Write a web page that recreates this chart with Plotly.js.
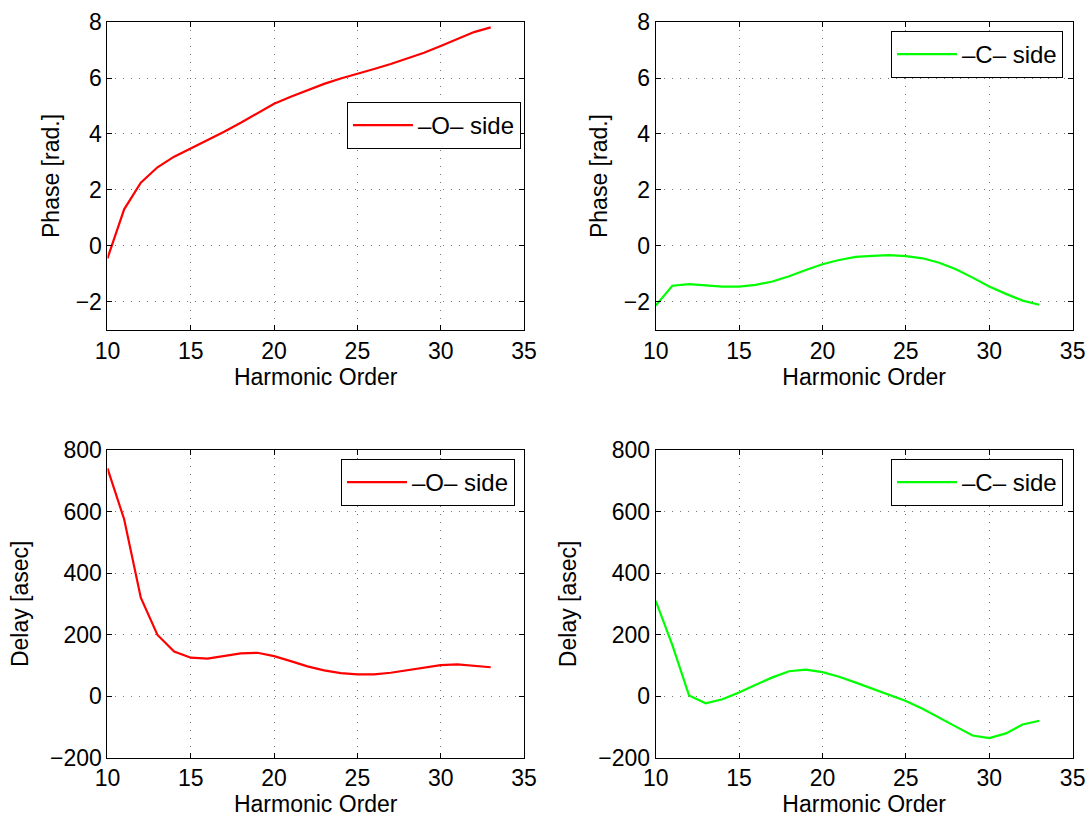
<!DOCTYPE html>
<html>
<head>
<meta charset="utf-8">
<script src="https://cdn.plot.ly/plotly-3.0.1.min.js"></script>
<style>
  html, body { margin: 0; padding: 0; background: #fff; }
  #chart { width: 1089px; height: 818px; }
</style>
</head>
<body>
<div id="chart"></div>
<script>
// Harmonic orders shared by all four panels
const harmonicOrder = [10, 11, 12, 13, 14, 15, 16, 17, 18, 19, 20, 21,
                       22, 23, 24, 25, 26, 27, 28, 29, 30, 31, 32, 33];

// Spectral phase [rad.]
const phaseOSide = [-0.44, 1.31, 2.26, 2.81, 3.19, 3.49, 3.77, 4.08, 4.40, 4.74, 5.08, 5.33,
                    5.57, 5.79, 5.98, 6.14, 6.32, 6.50, 6.69, 6.90, 7.14, 7.40, 7.64, 7.81];
const phaseCSide = [-2.13, -1.42, -1.36, -1.40, -1.45, -1.45, -1.39, -1.27, -1.08, -0.86, -0.65, -0.50,
                    -0.39, -0.35, -0.33, -0.36, -0.44, -0.60, -0.83, -1.13, -1.45, -1.71, -1.95, -2.10];

// Group delay [asec]
const delayOSide = [740, 575, 320, 199, 145, 125, 122, 130, 139, 141, 130, 114,
                    97, 84, 75, 71, 71, 76, 85, 94, 101, 103, 99, 94];
const delayCSide = [310, 166, 2, -23, -10, 12, 37, 61, 81, 86, 78, 63,
                    44, 24, 5, -16, -41, -69, -99, -128, -136, -121, -92, -80];

const seriesNames = ['\u2013O\u2013 side', '\u2013C\u2013 side'];
const xTicks = [10, 15, 20, 25, 30, 35];
const phaseTicks = [-2, 0, 2, 4, 6, 8];
const delayTicks = [-200, 0, 200, 400, 600, 800];

const FONT = 'Liberation Sans, Arial, Helvetica, sans-serif';
const RED = '#ff0000';
const GREEN = '#00ff00';

function trace(y, name, color, xa, ya, legend) {
  return {
    x: harmonicOrder, y: y, name: name, type: 'scatter', mode: 'lines',
    line: { color: color, width: 2.2 },
    xaxis: xa, yaxis: ya, legend: legend, showlegend: true
  };
}

const data = [
  trace(phaseOSide, seriesNames[0], RED, 'x', 'y', 'legend'),
  trace(phaseCSide, seriesNames[1], GREEN, 'x2', 'y2', 'legend2'),
  trace(delayOSide, seriesNames[0], RED, 'x3', 'y3', 'legend3'),
  trace(delayCSide, seriesNames[1], GREEN, 'x4', 'y4', 'legend4')
];

const GRID = { showgrid: true, gridcolor: '#777', griddash: '1px,7px', gridwidth: 1 };

function xAxis(domain, anchor) {
  return Object.assign({
    domain: domain, anchor: anchor, range: [10, 35],
    tickmode: 'array', tickvals: xTicks,
    ticks: 'inside', ticklen: 5, tickcolor: '#000',
    showline: true, linecolor: '#000', linewidth: 1, mirror: 'ticks',
    zeroline: false,
    tickfont: { family: FONT, size: 23, color: '#000' },
    title: { text: 'Harmonic Order', font: { family: FONT, size: 23, color: '#000' }, standoff: 5 }
  }, GRID);
}

function yAxis(domain, anchor, range, ticks, title, standoff) {
  return Object.assign({
    domain: domain, anchor: anchor, range: range,
    tickmode: 'array', tickvals: ticks,
    ticks: 'inside', ticklen: 5, tickcolor: '#000',
    showline: true, linecolor: '#000', linewidth: 1, mirror: 'ticks',
    zeroline: false,
    tickfont: { family: FONT, size: 23, color: '#000' },
    title: { text: title, font: { family: FONT, size: 23, color: '#000' }, standoff: standoff }
  }, GRID);
}

function legendBox(x, y) {
  return {
    x: x, y: y, xanchor: 'right', yanchor: 'top',
    bgcolor: '#fff', bordercolor: '#000', borderwidth: 1,
    font: { family: FONT, size: 24, color: '#000' },
    itemwidth: 60
  };
}

const leftDom = [0.0987, 0.4812];
const rightDom = [0.6021, 0.9850];
const topDom = [0.5966, 0.9731];
const botDom = [0.0737, 0.4499];

const layout = {
  width: 1089, height: 818,
  margin: { l: 0, r: 0, t: 0, b: 0 },
  paper_bgcolor: '#fff', plot_bgcolor: '#fff',
  font: { family: FONT, color: '#000' },
  xaxis: xAxis(leftDom, 'y'),
  yaxis: yAxis(topDom, 'x', [-3, 8], phaseTicks, 'Phase [rad.]', 9),
  xaxis2: xAxis(rightDom, 'y2'),
  yaxis2: yAxis(topDom, 'x2', [-3, 8], phaseTicks, 'Phase [rad.]', 9),
  xaxis3: xAxis(leftDom, 'y3'),
  yaxis3: yAxis(botDom, 'x3', [-200, 800], delayTicks, 'Delay [asec]', 15),
  xaxis4: xAxis(rightDom, 'y4'),
  yaxis4: yAxis(botDom, 'x4', [-200, 800], delayTicks, 'Delay [asec]', 15),
  legend: legendBox(0.4784, 0.8753),
  legend2: legendBox(0.9761, 0.9621),
  legend3: legendBox(0.4729, 0.4389),
  legend4: legendBox(0.9761, 0.4389)
};

Plotly.newPlot('chart', data, layout, { displayModeBar: false, staticPlot: true });
</script>
</body>
</html>
